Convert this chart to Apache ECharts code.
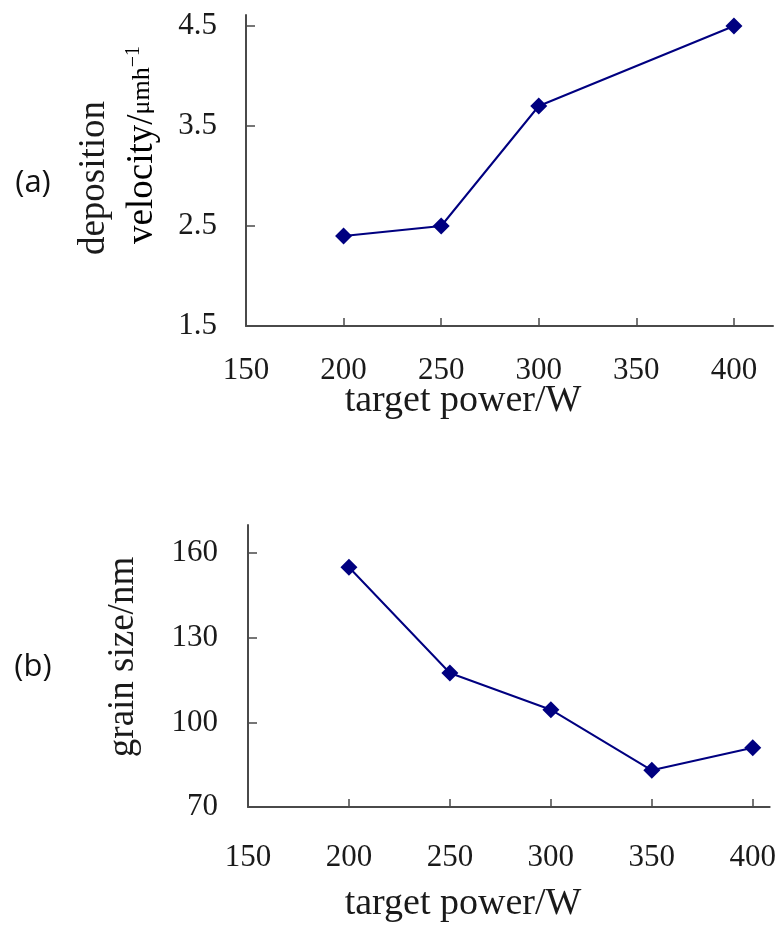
<!DOCTYPE html>
<html>
<head>
<meta charset="utf-8">
<script src="https://cdn.jsdelivr.net/npm/echarts@6/dist/echarts.min.js"></script>
<style>
html,body{margin:0;padding:0;background:#fff;}
#chart{width:779px;height:928px;}
</style>
</head>
<body>
<div id="chart"></div>
<script>
// Panel (a): deposition velocity vs target power
const powerA = [200, 250, 300, 400];
const velocityA = [2.4, 2.5, 3.7, 4.5];
// Panel (b): grain size vs target power
const powerB = [200, 250, 300, 350, 400];
const grainB = [155, 117.5, 104.5, 83, 91];
// Tick labels
const xTickLabels = [150, 200, 250, 300, 350, 400];
const xTicks = [200, 250, 300, 350, 400];
const yTickLabelsA = [1.5, 2.5, 3.5, 4.5];
const yTickLabelsB = [70, 100, 130, 160];

const SERIF = "'Liberation Serif', 'Times New Roman', serif";
const AXIS_COLOR = '#4a4a4a';
const TEXT_COLOR = '#1a1a1a';
const LINE_COLOR = '#000080';

const chart = echarts.init(document.getElementById('chart'), null, {renderer: 'canvas'});

function xAxisCfg(gridIndex, max, labelMargin) {
  return {
    type: 'value', gridIndex: gridIndex, min: 150, max: max,
    axisLine: {show: true, lineStyle: {color: AXIS_COLOR, width: 2}},
    axisTick: {show: true, inside: true, length: 8, customValues: xTicks, lineStyle: {color: AXIS_COLOR, width: 1.5}},
    axisLabel: {customValues: xTickLabels, margin: labelMargin, fontFamily: SERIF, fontSize: 31, color: TEXT_COLOR},
    splitLine: {show: false}
  };
}
function yAxisCfg(gridIndex, min, max, labels, margin) {
  return {
    type: 'value', gridIndex: gridIndex, min: min, max: max,
    axisLine: {show: true, lineStyle: {color: AXIS_COLOR, width: 2}},
    axisTick: {show: true, inside: true, length: 9, customValues: labels.slice(1), lineStyle: {color: AXIS_COLOR, width: 1.5}},
    axisLabel: {customValues: labels, margin: margin, fontFamily: SERIF, fontSize: 31, color: TEXT_COLOR,
      formatter: function (v) { return gridIndex === 0 ? v.toFixed(1) : String(v); }},
    splitLine: {show: false}
  };
}

const option = {
  backgroundColor: '#fff',
  animation: false,
  grid: [
    {left: 246, top: 15, width: 527, height: 311},
    {left: 248, top: 525, width: 522, height: 282}
  ],
  xAxis: [
    xAxisCfg(0, 420, 29),
    xAxisCfg(1, 408.4, 35)
  ],
  yAxis: [
    yAxisCfg(0, 1.5, 4.61, yTickLabelsA, 29),
    yAxisCfg(1, 70, 170, yTickLabelsB, 30)
  ],
  series: [
    {
      type: 'line', xAxisIndex: 0, yAxisIndex: 0,
      data: powerA.map((p, i) => [p, velocityA[i]]),
      symbol: 'diamond', symbolSize: 17,
      lineStyle: {color: LINE_COLOR, width: 2},
      itemStyle: {color: LINE_COLOR}
    },
    {
      type: 'line', xAxisIndex: 1, yAxisIndex: 1,
      data: powerB.map((p, i) => [p, grainB[i]]),
      symbol: 'diamond', symbolSize: 17,
      lineStyle: {color: LINE_COLOR, width: 2},
      itemStyle: {color: LINE_COLOR}
    }
  ],
  graphic: [
    {type: 'text', x: 33, y: 183, style: {text: '(a)', font: "31px 'Open Sans', 'Liberation Sans', sans-serif", fill: '#111', align: 'center', verticalAlign: 'middle'}},
    {type: 'text', x: 33, y: 667, style: {text: '(b)', font: "31px 'Open Sans', 'Liberation Sans', sans-serif", fill: '#111', align: 'center', verticalAlign: 'middle'}},
    {type: 'text', x: 463, y: 401,
      style: {text: 'target power/W', font: "38px " + SERIF, fill: TEXT_COLOR, align: 'center', verticalAlign: 'middle'}},
    {type: 'text', x: 463, y: 904,
      style: {text: 'target power/W', font: "38px " + SERIF, fill: TEXT_COLOR, align: 'center', verticalAlign: 'middle'}},
    {type: 'text', x: 94, y: 178, rotation: Math.PI / 2,
      style: {text: 'deposition', font: "37px " + SERIF, fill: TEXT_COLOR, align: 'center', verticalAlign: 'middle'}},
    {type: 'text', x: 142, y: 145, rotation: Math.PI / 2,
      style: {
        text: '{a|velocity/}{b|μmh}{c|−1}',
        align: 'center', verticalAlign: 'middle',
        rich: {
          a: {fontFamily: SERIF, fontSize: 37, color: TEXT_COLOR},
          b: {fontFamily: SERIF, fontSize: 26, color: TEXT_COLOR},
          c: {fontFamily: SERIF, fontSize: 20, color: TEXT_COLOR, verticalAlign: 'top', padding: [0, 0, 14, 0]}
        }
      }},
    {type: 'text', x: 123, y: 657, rotation: Math.PI / 2,
      style: {text: 'grain size/nm', font: "37px " + SERIF, fill: TEXT_COLOR, align: 'center', verticalAlign: 'middle'}}
  ]
};
chart.setOption(option);
</script>
</body>
</html>
